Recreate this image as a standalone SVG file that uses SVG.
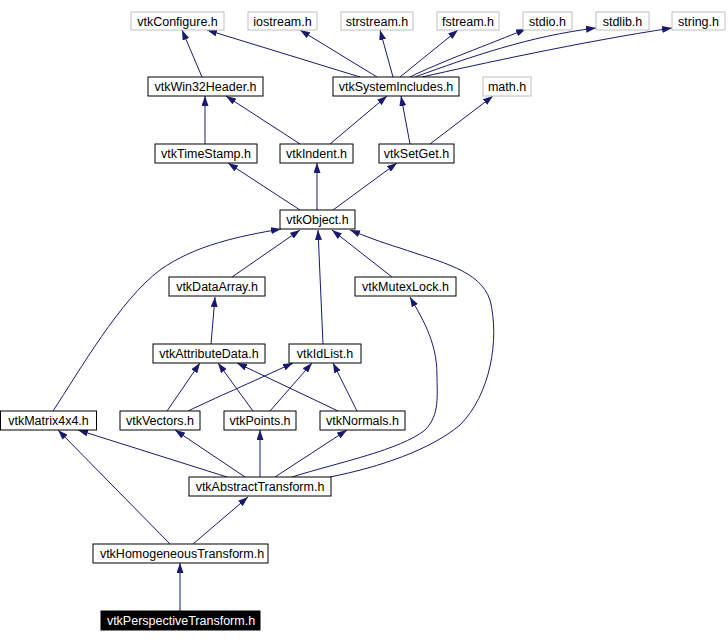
<svg xmlns="http://www.w3.org/2000/svg" width="728" height="642" viewBox="0 0 728 642">
<defs>
<marker id="arr" viewBox="0 0 10 7" refX="10" refY="3.5" markerWidth="10" markerHeight="7" markerUnits="userSpaceOnUse" orient="auto">
<path d="M0,0 L10,3.5 L0,7 z" fill="#191970"/>
</marker>
<style>
rect{fill:#fff;stroke:#000;stroke-width:1}
.g rect{stroke:#bfbfbf}
.cur rect{fill:#000;stroke:#000}
text{font-family:"Liberation Sans",Arial,sans-serif;font-size:12.5px;fill:#000;text-anchor:middle}
.cur text{fill:#fff}
#edges path{fill:none;stroke:#191970;stroke-width:1;marker-end:url(#arr)}
</style>
</defs>
<rect x="0" y="0" width="728" height="642" style="fill:#fff;stroke:none"/>
<g id="edges">
<path d="M202,77 L182,30"/>
<path d="M360,77 L207,30"/>
<path d="M377,77 L300,30"/>
<path d="M393,77 L380,30"/>
<path d="M400,77 L458,30"/>
<path d="M410,77 C440,62 490,44 526,29"/>
<path d="M415,77 C470,57 530,36 596,28"/>
<path d="M422,77 C480,64 580,42 672,28"/>
<path d="M205,144 L205,96"/>
<path d="M300,144 L226,96"/>
<path d="M330,144 L387,96"/>
<path d="M410,144 L401,96"/>
<path d="M430,144 L493,96"/>
<path d="M300,210 L228,163"/>
<path d="M317,210 L317,163"/>
<path d="M333,210 L397,163"/>
<path d="M232,277 L300,230"/>
<path d="M323,344 L318,230"/>
<path d="M392,277 L332,230"/>
<path d="M53,411 C80,370 120,300 160,270 C195,245 240,236 281,229"/>
<path d="M330,477 C380,467 430,450 460,425 C490,395 500,340 490,300 C480,270 440,262 400,248 C380,242 365,236 350,230"/>
<path d="M292,477 C340,462 400,450 425,430 C440,415 437,395 437,375 C437,340 420,315 410,297"/>
<path d="M211,344 L215,297"/>
<path d="M167,411 L200,363"/>
<path d="M188,411 C215,398 250,383 293,363"/>
<path d="M253,411 L218,363"/>
<path d="M270,411 L312,363"/>
<path d="M338,411 L237,363"/>
<path d="M357,411 L333,363"/>
<path d="M227,477 L78,430"/>
<path d="M245,477 L175,430"/>
<path d="M260,477 L260,430"/>
<path d="M275,477 L347,430"/>
<path d="M170,544 L58,430"/>
<path d="M193,544 L248,497"/>
<path d="M180,611 L180,563"/>
</g>
<g id="vtkConfigure" class="g"><rect x="131" y="12" width="93" height="18"/><text x="177.5" y="25.5">vtkConfigure.h</text></g>
<g id="iostream" class="g"><rect x="248" y="12" width="69" height="18"/><text x="282.5" y="25.5">iostream.h</text></g>
<g id="strstream" class="g"><rect x="341" y="12" width="72" height="18"/><text x="377" y="25.5">strstream.h</text></g>
<g id="fstream" class="g"><rect x="437" y="12" width="62" height="18"/><text x="468" y="25.5">fstream.h</text></g>
<g id="stdio" class="g"><rect x="523" y="12" width="49" height="18"/><text x="547.5" y="25.5">stdio.h</text></g>
<g id="stdlib" class="g"><rect x="596" y="12" width="53" height="18"/><text x="622.5" y="25.5">stdlib.h</text></g>
<g id="string" class="g"><rect x="672" y="12" width="53" height="18"/><text x="698.5" y="25.5">string.h</text></g>
<g id="vtkWin32Header"><rect x="148" y="77" width="115" height="19"/><text x="205.5" y="91">vtkWin32Header.h</text></g>
<g id="vtkSystemIncludes"><rect x="333" y="77" width="126" height="19"/><text x="396" y="91">vtkSystemIncludes.h</text></g>
<g id="math" class="g"><rect x="483" y="77" width="48" height="19"/><text x="507" y="91">math.h</text></g>
<g id="vtkTimeStamp"><rect x="155" y="144" width="102" height="19"/><text x="206" y="158">vtkTimeStamp.h</text></g>
<g id="vtkIndent"><rect x="280" y="144" width="73" height="19"/><text x="316.5" y="158">vtkIndent.h</text></g>
<g id="vtkSetGet"><rect x="379" y="144" width="75" height="19"/><text x="416.5" y="158">vtkSetGet.h</text></g>
<g id="vtkObject"><rect x="280" y="210" width="75" height="19"/><text x="317.5" y="224">vtkObject.h</text></g>
<g id="vtkDataArray"><rect x="169" y="277" width="96" height="19"/><text x="217" y="291">vtkDataArray.h</text></g>
<g id="vtkMutexLock"><rect x="355" y="277" width="101" height="19"/><text x="405.5" y="291">vtkMutexLock.h</text></g>
<g id="vtkAttributeData"><rect x="153" y="344" width="112" height="19"/><text x="209" y="358">vtkAttributeData.h</text></g>
<g id="vtkIdList"><rect x="289" y="344" width="72" height="19"/><text x="325" y="358">vtkIdList.h</text></g>
<g id="vtkMatrix4x4"><rect x="0.5" y="411" width="96" height="19"/><text x="48.5" y="425">vtkMatrix4x4.h</text></g>
<g id="vtkVectors"><rect x="120" y="411" width="80" height="19"/><text x="160" y="425">vtkVectors.h</text></g>
<g id="vtkPoints"><rect x="224" y="411" width="72" height="19"/><text x="260" y="425">vtkPoints.h</text></g>
<g id="vtkNormals"><rect x="320" y="411" width="85" height="19"/><text x="362.5" y="425">vtkNormals.h</text></g>
<g id="vtkAbstractTransform"><rect x="189" y="477" width="142" height="19"/><text x="260" y="491">vtkAbstractTransform.h</text></g>
<g id="vtkHomogeneousTransform"><rect x="93" y="544" width="175" height="19"/><text x="182" y="558">vtkHomogeneousTransform.h</text></g>
<g id="vtkPerspectiveTransform" class="cur"><rect x="101" y="611" width="159" height="19"/><text x="181" y="625">vtkPerspectiveTransform.h</text></g>
</svg>
